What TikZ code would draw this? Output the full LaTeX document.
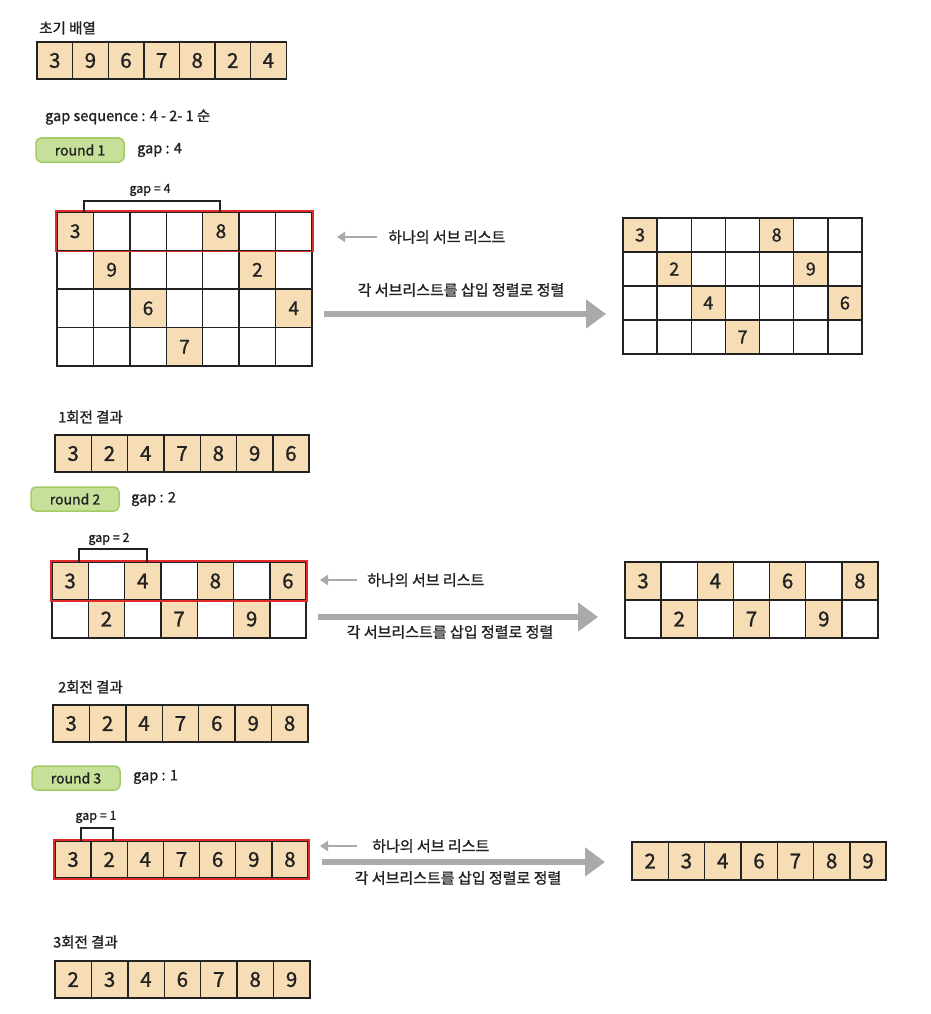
\documentclass[tikz,border=0pt]{standalone}
\usepackage{fontspec}
\setmainfont{Noto Sans CJK KR}[FakeBold=1.2]
\usetikzlibrary{arrows.meta,fit}
\definecolor{beige}{HTML}{F6DDB5}
\definecolor{pillfill}{HTML}{C6E09A}
\definecolor{pilldraw}{HTML}{A3CC66}
\definecolor{subred}{HTML}{E02A2A}
\definecolor{arrowgray}{HTML}{AAAAAA}
\definecolor{ink}{HTML}{222222}
\tikzset{
  cell/.style={inner sep=0pt,outer sep=0pt,fill=white,text=ink},
  cellline/.style={draw=ink,line width=1.4pt},
  lbl/.style={anchor=west,inner sep=0pt,text=ink,font=\fontsize{14.5}{14.5}\selectfont},
  pill/.style={draw=pilldraw,fill=pillfill,line width=1.5pt,rounded corners=5pt,minimum width=88pt,minimum height=24pt,inner sep=0pt,text=ink,font=\fontsize{14}{14}\selectfont},
  subbox/.style={draw=subred,line width=1.6pt,inner sep=0.8pt},
  bracket/.style={draw=ink,line width=1.2pt},
  gaplbl/.style={inner sep=0pt,text=ink,font=\fontsize{12.5}{12.5}\selectfont},
  smallarrow/.style={draw=arrowgray,line width=2pt,-{Triangle[length=8pt,width=10pt]}},
  bigarrow/.style={draw=arrowgray,line width=6pt,-{Triangle[length=20pt,width=28pt]}},
  sortlbl/.style={inner sep=0pt,text=ink,font=\fontsize{15}{15}\selectfont}
}
% #1 name, #2 x0, #3 y0 (top), #4 cell width, #5 cell height, #6 list, #7 font size
\newcommand\cellrow[7]{%
  \foreach \v [count=\i] in {#6} {%
    \if\v x
      \node[cell,minimum width=#4pt,minimum height=#5pt] (#1-\i) at ({#2+(\i-0.5)*#4},{#3+#5/2}) {};
    \else
      \node[cell,fill=beige,minimum width=#4pt,minimum height=#5pt,font=\fontsize{#7}{#7}\selectfont] (#1-\i) at ({#2+(\i-0.5)*#4},{#3+#5/2}) {\v};
    \fi
  }%
  \foreach \v [count=\i] in {#6} {%
    \draw[cellline] (#1-\i.north west) rectangle (#1-\i.south east);
  }%
}
\begin{document}
\begin{tikzpicture}[x=1pt,y=-1pt]
\useasboundingbox[fill=white] (0,0) rectangle (930,1014);

% ---------- initial ----------
\node[lbl] (initlbl) at (39,28) {초기 배열};
\cellrow{init}{37}{42}{35.6}{37}{3,9,6,7,8,2,4}{20.5}
\node[lbl] (gapseq) at (45,117) {gap sequence : 4 - 2- 1 순};

% ---------- round 1 ----------
\node[pill] (r1pill) at (80,150) {round 1};
\node[lbl] (r1gap) at (137,150) {gap : 4};

\cellrow{ra}{57}{212}{36.43}{38.5}{3,x,x,x,8,x,x}{19}
\cellrow{rb}{57}{250.5}{36.43}{38.5}{x,9,x,x,x,2,x}{19}
\cellrow{rc}{57}{289}{36.43}{38.5}{x,x,6,x,x,x,4}{19}
\cellrow{rd}{57}{327.5}{36.43}{38.5}{x,x,x,7,x,x,x}{19}
\node[subbox,fit=(ra-1)(ra-7)] (r1sub) {};
\coordinate (g1a) at (84,212);
\coordinate (g1b) at (220,212);
\draw[bracket] (g1a) -- ++(0,-11) -| (g1b);
\node[gaplbl] (g1lbl) at (150,190) {gap = 4};

\coordinate (r1s1) at (377,237);
\coordinate (r1s2) at (337,237);
\draw[smallarrow] (r1s1) -- (r1s2);
\node[lbl,font=\fontsize{15}{15}\selectfont] (r1sublbl) at (388,237) {하나의 서브 리스트};
\node[sortlbl] (r1sortlbl) at (461,290) {각 서브리스트를 삽입 정렬로 정렬};
\coordinate (r1b1) at (324,314);
\coordinate (r1b2) at (606,314);
\draw[bigarrow] (r1b1) -- (r1b2);

\cellrow{sa}{623}{218}{34.14}{34}{3,x,x,x,8,x,x}{18}
\cellrow{sb}{623}{252}{34.14}{34}{x,2,x,x,x,9,x}{18}
\cellrow{sc}{623}{286}{34.14}{34}{x,x,4,x,x,x,6}{18}
\cellrow{sd}{623}{320}{34.14}{34}{x,x,x,7,x,x,x}{18}

\node[lbl] (res1lbl) at (58,417) {1회전 결과};
\cellrow{res1}{55}{435}{36.3}{37}{3,2,4,7,8,9,6}{20.5}

% ---------- round 2 ----------
\node[pill] (r2pill) at (75,499) {round 2};
\node[lbl] (r2gap) at (131,499) {gap : 2};

\cellrow{ta}{52}{562}{36.3}{38}{3,x,4,x,8,x,6}{20.5}
\cellrow{tb}{52}{600}{36.3}{38}{x,2,x,7,x,9,x}{20.5}
\node[subbox,fit=(ta-1)(ta-7)] (r2sub) {};
\coordinate (g2a) at (79,562);
\coordinate (g2b) at (147,562);
\draw[bracket] (g2a) -- ++(0,-13) -| (g2b);
\node[gaplbl] (g2lbl) at (109,539) {gap = 2};

\coordinate (r2s1) at (357,580);
\coordinate (r2s2) at (320,580);
\draw[smallarrow] (r2s1) -- (r2s2);
\node[lbl,font=\fontsize{15}{15}\selectfont] (r2sublbl) at (367,580) {하나의 서브 리스트};
\coordinate (r2b1) at (318,617);
\coordinate (r2b2) at (598,617);
\draw[bigarrow] (r2b1) -- (r2b2);
\node[sortlbl] (r2sortlbl) at (450,632) {각 서브리스트를 삽입 정렬로 정렬};

\cellrow{ua}{625}{562}{36.14}{38}{3,x,4,x,6,x,8}{20.5}
\cellrow{ub}{625}{600}{36.14}{38}{x,2,x,7,x,9,x}{20.5}

\node[lbl] (res2lbl) at (58,687) {2회전 결과};
\cellrow{res2}{53}{705}{36.4}{37}{3,2,4,7,6,9,8}{20.5}

% ---------- round 3 ----------
\node[pill] (r3pill) at (76,778) {round 3};
\node[lbl] (r3gap) at (133,777) {gap : 1};

\cellrow{va}{55}{841}{36.14}{37}{3,2,4,7,6,9,8}{20.5}
\node[subbox,fit=(va-1)(va-7)] (r3sub) {};
\coordinate (g3a) at (81,841);
\coordinate (g3b) at (113,841);
\draw[bracket] (g3a) -- ++(0,-13) -| (g3b);
\node[gaplbl] (g3lbl) at (96,817) {gap = 1};

\coordinate (r3s1) at (357,846);
\coordinate (r3s2) at (320,846);
\draw[smallarrow] (r3s1) -- (r3s2);
\node[lbl,font=\fontsize{15}{15}\selectfont] (r3sublbl) at (372,846) {하나의 서브 리스트};
\coordinate (r3b1) at (322,862);
\coordinate (r3b2) at (605,862);
\draw[bigarrow] (r3b1) -- (r3b2);
\node[sortlbl] (r3sortlbl) at (458,878) {각 서브리스트를 삽입 정렬로 정렬};

\cellrow{wa}{632}{842}{36.3}{38}{2,3,4,6,7,8,9}{20.5}

\node[lbl] (res3lbl) at (53,942) {3회전 결과};
\cellrow{res3}{55}{961}{36.4}{37}{2,3,4,6,7,8,9}{20.5}
\end{tikzpicture}
\end{document}
